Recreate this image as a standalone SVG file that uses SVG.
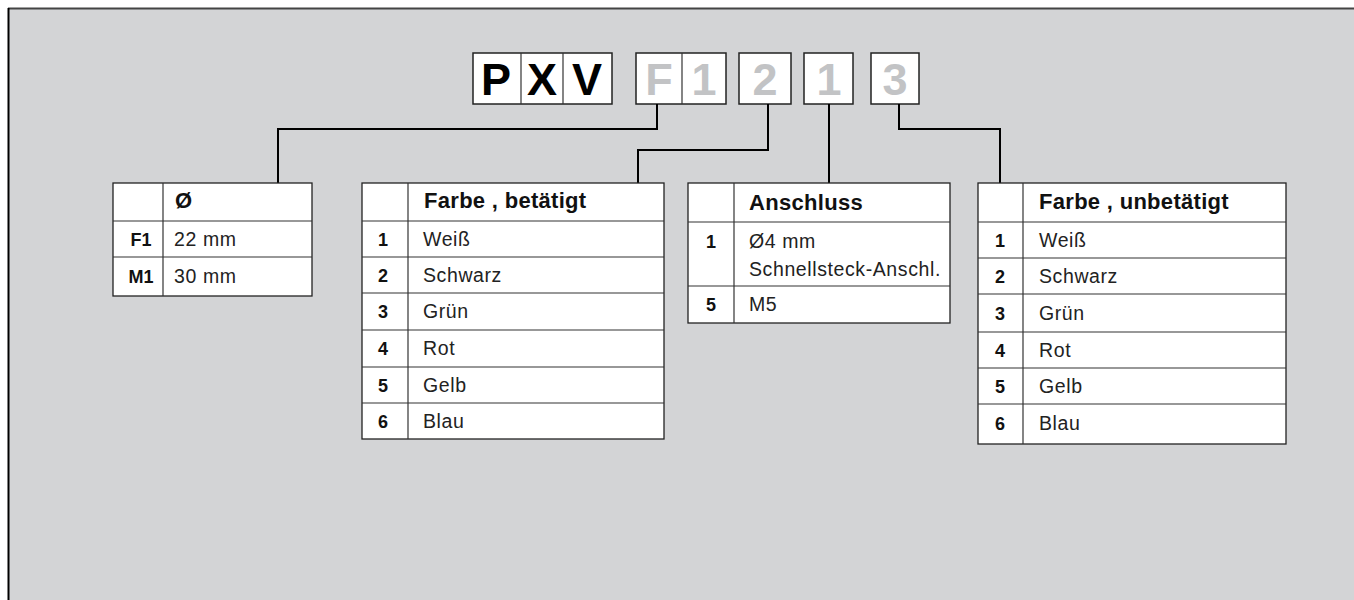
<svg xmlns="http://www.w3.org/2000/svg" width="1354" height="600" viewBox="0 0 1354 600">
<style>
.cell{fill:#fff;stroke:#222;stroke-width:1.3}
.code{fill:#fff;stroke:#222;stroke-width:1.5}
.rl{stroke:#333;stroke-width:1.2}
.conn{fill:none;stroke:#000;stroke-width:2}
.big{font-family:"Liberation Sans",Arial,sans-serif;font-weight:bold;font-size:45px;text-anchor:middle}
.blk{fill:#000}
.gry{fill:#c2c3c5}
.hd{font-family:"Liberation Sans",Arial,sans-serif;font-weight:bold;font-size:22px;letter-spacing:0.3px;fill:#111}
.num{font-family:"Liberation Sans",Arial,sans-serif;font-weight:bold;font-size:18px;fill:#111;text-anchor:middle}
.tx{font-family:"Liberation Sans",Arial,sans-serif;font-size:19.5px;letter-spacing:0.6px;fill:#222}
</style>
<rect x="0" y="0" width="1354" height="600" fill="#fff"/>
<rect x="9" y="9" width="1345" height="591" fill="#d3d4d6"/>
<line x1="8" y1="8.5" x2="1354" y2="8.5" stroke="#444" stroke-width="2"/>
<line x1="8.5" y1="8" x2="8.5" y2="600" stroke="#000" stroke-width="2"/>

<g id="code">
<rect class="code" x="473" y="53" width="139" height="51"/>
<line class="rl" x1="521" y1="53" x2="521" y2="104"/>
<line class="rl" x1="563" y1="53" x2="563" y2="104"/>
<text class="big blk" x="496" y="95">P</text>
<text class="big blk" x="542" y="95">X</text>
<text class="big blk" x="587" y="95">V</text>
<rect class="code" x="636" y="53" width="90" height="51"/>
<line class="rl" x1="682" y1="53" x2="682" y2="104"/>
<text class="big gry" x="659" y="95">F</text>
<text class="big gry" x="704" y="95">1</text>
<rect class="code" x="739" y="53" width="52" height="51"/>
<text class="big gry" x="765" y="95">2</text>
<rect class="code" x="804" y="53" width="49" height="51"/>
<text class="big gry" x="829" y="95">1</text>
<rect class="code" x="871" y="53" width="48" height="51"/>
<text class="big gry" x="895" y="95">3</text>
</g>

<g id="connectors">
<polyline class="conn" points="657,104 657,129 278,129 278,183"/>
<polyline class="conn" points="768,104 768,150 638,150 638,183"/>
<polyline class="conn" points="829,104 829,183"/>
<polyline class="conn" points="899,104 899,129 1000,129 1000,183"/>
</g>

<g id="table-diameter">
<rect class="cell" x="113" y="183" width="199" height="113"/>
<line class="rl" x1="163" y1="183" x2="163" y2="296"/>
<line class="rl" x1="113" y1="221" x2="312" y2="221"/>
<line class="rl" x1="113" y1="257" x2="312" y2="257"/>
<text class="hd" x="175" y="208">Ø</text>
<text class="num" x="141" y="246">F1</text>
<text class="tx" x="174" y="246">22 mm</text>
<text class="num" x="141" y="283">M1</text>
<text class="tx" x="174" y="283">30 mm</text>
</g>

<g id="table-farbe-betaetigt">
<rect class="cell" x="362" y="183" width="302" height="256"/>
<line class="rl" x1="408" y1="183" x2="408" y2="439"/>
<line class="rl" x1="362" y1="221" x2="664" y2="221"/>
<line class="rl" x1="362" y1="257" x2="664" y2="257"/>
<line class="rl" x1="362" y1="293" x2="664" y2="293"/>
<line class="rl" x1="362" y1="330" x2="664" y2="330"/>
<line class="rl" x1="362" y1="367" x2="664" y2="367"/>
<line class="rl" x1="362" y1="403" x2="664" y2="403"/>
<text class="hd" x="424" y="208">Farbe , betätigt</text>
<text class="num" x="383" y="246">1</text><text class="tx" x="423" y="246">Weiß</text>
<text class="num" x="383" y="282">2</text><text class="tx" x="423" y="282">Schwarz</text>
<text class="num" x="383" y="318">3</text><text class="tx" x="423" y="318">Grün</text>
<text class="num" x="383" y="355">4</text><text class="tx" x="423" y="355">Rot</text>
<text class="num" x="383" y="392">5</text><text class="tx" x="423" y="392">Gelb</text>
<text class="num" x="383" y="428">6</text><text class="tx" x="423" y="428">Blau</text>
</g>

<g id="table-anschluss">
<rect class="cell" x="688" y="183" width="262" height="140"/>
<line class="rl" x1="734" y1="183" x2="734" y2="323"/>
<line class="rl" x1="688" y1="222" x2="950" y2="222"/>
<line class="rl" x1="688" y1="286" x2="950" y2="286"/>
<text class="hd" x="749" y="210">Anschluss</text>
<text class="num" x="711" y="248">1</text>
<text class="tx" x="749" y="248">Ø4 mm</text>
<text class="tx" x="749" y="276">Schnellsteck-Anschl.</text>
<text class="num" x="711" y="311">5</text>
<text class="tx" x="749" y="311">M5</text>
</g>

<g id="table-farbe-unbetaetigt">
<rect class="cell" x="978" y="183" width="308" height="261"/>
<line class="rl" x1="1023" y1="183" x2="1023" y2="444"/>
<line class="rl" x1="978" y1="222" x2="1286" y2="222"/>
<line class="rl" x1="978" y1="258" x2="1286" y2="258"/>
<line class="rl" x1="978" y1="294" x2="1286" y2="294"/>
<line class="rl" x1="978" y1="332" x2="1286" y2="332"/>
<line class="rl" x1="978" y1="368" x2="1286" y2="368"/>
<line class="rl" x1="978" y1="404" x2="1286" y2="404"/>
<text class="hd" x="1039" y="209">Farbe , unbetätigt</text>
<text class="num" x="1000" y="247">1</text><text class="tx" x="1039" y="247">Weiß</text>
<text class="num" x="1000" y="283">2</text><text class="tx" x="1039" y="283">Schwarz</text>
<text class="num" x="1000" y="320">3</text><text class="tx" x="1039" y="320">Grün</text>
<text class="num" x="1000" y="357">4</text><text class="tx" x="1039" y="357">Rot</text>
<text class="num" x="1000" y="393">5</text><text class="tx" x="1039" y="393">Gelb</text>
<text class="num" x="1000" y="430">6</text><text class="tx" x="1039" y="430">Blau</text>
</g>
</svg>
